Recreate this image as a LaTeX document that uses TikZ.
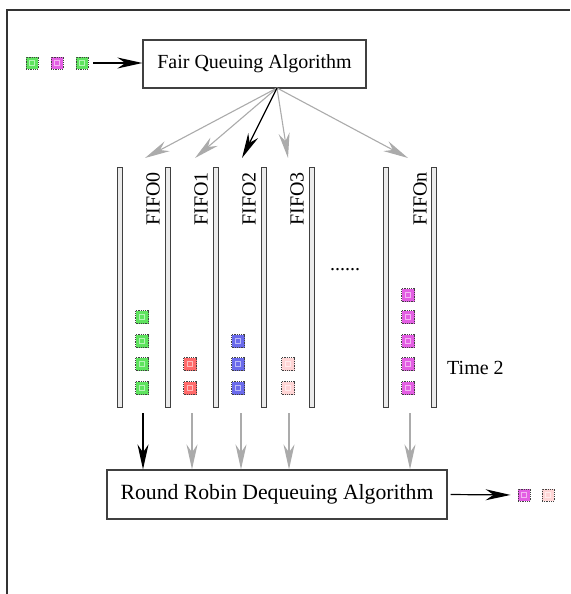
\documentclass[tikz,border=0pt]{standalone}
\usepackage{fontspec}
\setmainfont{Liberation Serif}
\usetikzlibrary{arrows.meta}

\definecolor{pktgreen}{HTML}{5FE35F}
\definecolor{pktmagenta}{HTML}{E35FE3}
\definecolor{pktred}{HTML}{FF6B6B}
\definecolor{pktblue}{HTML}{6B6BEB}
\definecolor{pktpink}{HTML}{FFD6D6}

\begin{document}
\begin{tikzpicture}[x=1pt,y=-1pt,
  frameline/.style={line width=2pt, draw=black!80},
  algbox/.style={draw=black!75, line width=1.2pt, fill=white, inner sep=0pt,
    font=\fontsize{20}{24}\selectfont},
  barnode/.style={draw=black!75, fill=black!8, line width=1pt,
    minimum width=5.5pt, minimum height=240pt, inner sep=0pt},
  fifolabel/.style={rotate=90, anchor=east, inner sep=0pt,
    font=\fontsize{20}{24}\selectfont},
  plain/.style={inner sep=0pt, font=\fontsize{20}{24}\selectfont},
  pkt/.style={draw=black!75, dash pattern=on 1pt off 0.8pt, line width=0.9pt,
    minimum size=12pt, inner sep=0pt, fill=#1,
    path picture={\draw[white!55!#1, line width=0.6pt, solid]
      ([shift={(-2.7pt,-2.7pt)}]path picture bounding box.center) rectangle
      ([shift={(2.7pt,2.7pt)}]path picture bounding box.center);}},
  bigpkt/.style={pkt=#1, minimum size=13pt},
  flow/.style={-{Stealth[length=25pt,width=11pt,inset=8pt]}, line width=1.2pt, draw=black},
  grayflow/.style={flow, line width=1.1pt, draw=black!33},
]
\useasboundingbox (0,0) rectangle (570,594);

% partial frame
\draw[frameline] (7,594) -- (7,10) -- (570,10);

% algorithm boxes
\node[algbox, minimum width=223pt, minimum height=48pt] (fq) at (254.5,64) {Fair Queuing Algorithm};
\node[algbox, minimum width=340pt, minimum height=49pt] (rr) at (277,494.5)
  {\fontsize{21.7}{26}\selectfont Round Robin Dequeuing Algorithm};

% incoming packets
\node[pkt=pktgreen]   (pin1) at (32,63) {};
\node[pkt=pktmagenta] (pin2) at (57,63) {};
\node[pkt=pktgreen]   (pin3) at (82,63) {};
\draw[flow, shorten <=5pt] (pin3.east) -- (pin3.east -| fq.west);

% queue walls
\foreach \n/\x in {a/120,b/168,c/216,d/264,e/312,f/386,g/434}
  \node[barnode] (bar\n) at (\x,287) {};

% queue labels
\node[fifolabel] (lab0) at (153,172) {FIFO0};
\node[fifolabel] (lab1) at (201,172) {FIFO1};
\node[fifolabel] (lab2) at (249,172) {FIFO2};
\node[fifolabel] (lab3) at (297,172) {FIFO3};
\node[fifolabel] (labn) at (420,172) {FIFOn};

\node[plain] (dots) at (345,270) {......};
\node[plain, anchor=west] (time) at (447,368) {Time 2};

% queued packets
\foreach \y [count=\k] in {317,341,364,388}
  \node[bigpkt=pktgreen] (q0p\k) at (142,\y) {};
\foreach \y [count=\k] in {364,388}
  \node[bigpkt=pktred] (q1p\k) at (190,\y) {};
\foreach \y [count=\k] in {341,364,388}
  \node[bigpkt=pktblue] (q2p\k) at (238,\y) {};
\foreach \y [count=\k] in {364,388}
  \node[bigpkt=pktpink] (q3p\k) at (288,\y) {};
\foreach \y [count=\k] in {295,317,341,364,388}
  \node[bigpkt=pktmagenta] (qnp\k) at (408,\y) {};

% enqueue arrows
\coordinate (fork) at (277,88);
\coordinate (in0) at (145,158);
\coordinate (in1) at (195,158);
\coordinate (in2) at (242,158);
\coordinate (in3) at (288,158);
\coordinate (inn) at (408,158);
\draw[grayflow] (fork) -- (in0);
\draw[grayflow] (fork) -- (in1);
\draw[grayflow] (fork) -- (in3);
\draw[grayflow] (fork) -- (inn);
\draw[flow] (fork) -- (in2);

% dequeue arrows
\coordinate (out0) at (143,413);
\coordinate (out1) at (192,413);
\coordinate (out2) at (241,413);
\coordinate (out3) at (289,413);
\coordinate (outn) at (410,413);
\draw[flow] (out0) -- (out0 |- rr.north);
\foreach \c in {out1,out2,out3,outn}
  \draw[grayflow] (\c) -- (\c |- rr.north);

% outgoing packets
\node[pkt=pktmagenta] (pout1) at (524,495) {};
\node[pkt=pktpink]    (pout2) at (548,495) {};
\draw[flow, shorten <=3pt, shorten >=7pt] (rr.east) -- (pout1.west);
\end{tikzpicture}
\end{document}
